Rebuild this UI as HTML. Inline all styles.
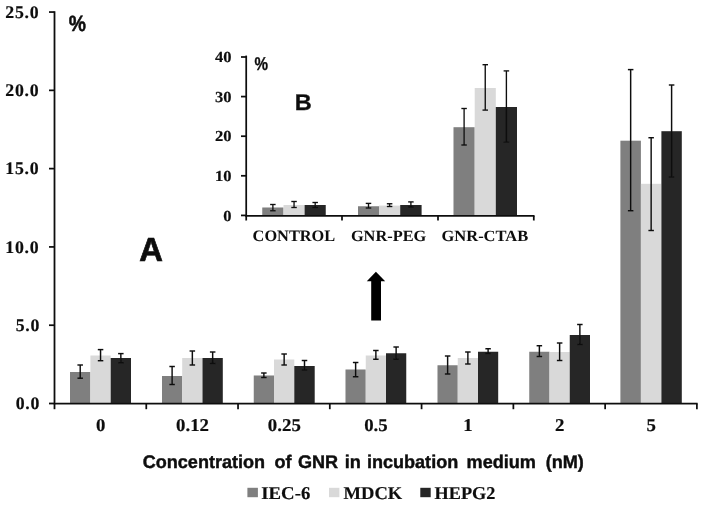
<!DOCTYPE html>
<html><head><meta charset="utf-8"><title>GNR chart</title>
<style>
html,body{margin:0;padding:0;background:#fff;}
svg{display:block;}
text{text-rendering:geometricPrecision;}
.se{font-family:"Liberation Serif","DejaVu Serif",serif;font-weight:bold;fill:#0c0c0c;stroke:#0c0c0c;stroke-width:0.15px;}
.sa{font-family:"Liberation Sans","DejaVu Sans",sans-serif;font-weight:bold;fill:#0a0a0a;stroke:#0a0a0a;stroke-width:0.3px;}
.nm{stroke-width:0.18px;}
.lt{stroke-width:0.02px;}
</style></head><body>
<svg width="704" height="505" viewBox="0 0 704 505">
<defs><filter id="soft" x="0" y="0" width="704" height="505" filterUnits="userSpaceOnUse"><feGaussianBlur stdDeviation="0.45"/></filter></defs>
<rect width="704" height="505" fill="#fff"/>
<g filter="url(#soft)">
<rect x="70.00" y="372.00" width="20.40" height="31.55" fill="#7f7f7f"/>
<rect x="90.40" y="355.50" width="20.30" height="48.05" fill="#d9d9d9"/>
<rect x="110.70" y="358.00" width="20.30" height="45.55" fill="#262626"/>
<rect x="162.00" y="376.00" width="20.20" height="27.55" fill="#7f7f7f"/>
<rect x="182.20" y="358.00" width="20.30" height="45.55" fill="#d9d9d9"/>
<rect x="202.50" y="358.00" width="20.30" height="45.55" fill="#262626"/>
<rect x="253.75" y="375.50" width="20.25" height="28.05" fill="#7f7f7f"/>
<rect x="274.00" y="359.50" width="20.30" height="44.05" fill="#d9d9d9"/>
<rect x="294.30" y="366.00" width="20.40" height="37.55" fill="#262626"/>
<rect x="345.50" y="369.50" width="20.25" height="34.05" fill="#7f7f7f"/>
<rect x="365.75" y="355.50" width="20.25" height="48.05" fill="#d9d9d9"/>
<rect x="386.00" y="353.25" width="20.25" height="50.30" fill="#262626"/>
<rect x="437.50" y="365.25" width="20.25" height="38.30" fill="#7f7f7f"/>
<rect x="457.75" y="358.00" width="20.25" height="45.55" fill="#d9d9d9"/>
<rect x="478.00" y="351.75" width="20.20" height="51.80" fill="#262626"/>
<rect x="529.25" y="351.75" width="20.25" height="51.80" fill="#7f7f7f"/>
<rect x="549.50" y="352.00" width="20.25" height="51.55" fill="#d9d9d9"/>
<rect x="569.75" y="335.00" width="20.25" height="68.55" fill="#262626"/>
<rect x="620.40" y="140.70" width="20.50" height="262.85" fill="#7f7f7f"/>
<rect x="640.90" y="183.80" width="20.50" height="219.75" fill="#d9d9d9"/>
<rect x="661.40" y="131.20" width="20.40" height="272.35" fill="#262626"/>
<line x1="80.20" y1="365.00" x2="80.20" y2="378.20" stroke="#101010" stroke-width="1.45"/>
<line x1="77.45" y1="365.00" x2="82.95" y2="365.00" stroke="#101010" stroke-width="1.45"/>
<line x1="77.45" y1="378.20" x2="82.95" y2="378.20" stroke="#101010" stroke-width="1.45"/>
<line x1="100.55" y1="349.60" x2="100.55" y2="360.70" stroke="#101010" stroke-width="1.45"/>
<line x1="97.80" y1="349.60" x2="103.30" y2="349.60" stroke="#101010" stroke-width="1.45"/>
<line x1="97.80" y1="360.70" x2="103.30" y2="360.70" stroke="#101010" stroke-width="1.45"/>
<line x1="120.85" y1="353.60" x2="120.85" y2="362.80" stroke="#101010" stroke-width="1.45"/>
<line x1="118.10" y1="353.60" x2="123.60" y2="353.60" stroke="#101010" stroke-width="1.45"/>
<line x1="118.10" y1="362.80" x2="123.60" y2="362.80" stroke="#101010" stroke-width="1.45"/>
<line x1="172.10" y1="366.50" x2="172.10" y2="384.50" stroke="#101010" stroke-width="1.45"/>
<line x1="169.35" y1="366.50" x2="174.85" y2="366.50" stroke="#101010" stroke-width="1.45"/>
<line x1="169.35" y1="384.50" x2="174.85" y2="384.50" stroke="#101010" stroke-width="1.45"/>
<line x1="192.35" y1="351.00" x2="192.35" y2="365.00" stroke="#101010" stroke-width="1.45"/>
<line x1="189.60" y1="351.00" x2="195.10" y2="351.00" stroke="#101010" stroke-width="1.45"/>
<line x1="189.60" y1="365.00" x2="195.10" y2="365.00" stroke="#101010" stroke-width="1.45"/>
<line x1="212.65" y1="352.00" x2="212.65" y2="363.50" stroke="#101010" stroke-width="1.45"/>
<line x1="209.90" y1="352.00" x2="215.40" y2="352.00" stroke="#101010" stroke-width="1.45"/>
<line x1="209.90" y1="363.50" x2="215.40" y2="363.50" stroke="#101010" stroke-width="1.45"/>
<line x1="263.88" y1="373.00" x2="263.88" y2="377.50" stroke="#101010" stroke-width="1.45"/>
<line x1="261.12" y1="373.00" x2="266.62" y2="373.00" stroke="#101010" stroke-width="1.45"/>
<line x1="261.12" y1="377.50" x2="266.62" y2="377.50" stroke="#101010" stroke-width="1.45"/>
<line x1="284.15" y1="354.00" x2="284.15" y2="365.00" stroke="#101010" stroke-width="1.45"/>
<line x1="281.40" y1="354.00" x2="286.90" y2="354.00" stroke="#101010" stroke-width="1.45"/>
<line x1="281.40" y1="365.00" x2="286.90" y2="365.00" stroke="#101010" stroke-width="1.45"/>
<line x1="304.50" y1="360.50" x2="304.50" y2="370.00" stroke="#101010" stroke-width="1.45"/>
<line x1="301.75" y1="360.50" x2="307.25" y2="360.50" stroke="#101010" stroke-width="1.45"/>
<line x1="301.75" y1="370.00" x2="307.25" y2="370.00" stroke="#101010" stroke-width="1.45"/>
<line x1="355.62" y1="362.50" x2="355.62" y2="376.75" stroke="#101010" stroke-width="1.45"/>
<line x1="352.88" y1="362.50" x2="358.38" y2="362.50" stroke="#101010" stroke-width="1.45"/>
<line x1="352.88" y1="376.75" x2="358.38" y2="376.75" stroke="#101010" stroke-width="1.45"/>
<line x1="375.88" y1="350.50" x2="375.88" y2="359.25" stroke="#101010" stroke-width="1.45"/>
<line x1="373.12" y1="350.50" x2="378.62" y2="350.50" stroke="#101010" stroke-width="1.45"/>
<line x1="373.12" y1="359.25" x2="378.62" y2="359.25" stroke="#101010" stroke-width="1.45"/>
<line x1="396.12" y1="347.00" x2="396.12" y2="359.25" stroke="#101010" stroke-width="1.45"/>
<line x1="393.38" y1="347.00" x2="398.88" y2="347.00" stroke="#101010" stroke-width="1.45"/>
<line x1="393.38" y1="359.25" x2="398.88" y2="359.25" stroke="#101010" stroke-width="1.45"/>
<line x1="447.62" y1="356.00" x2="447.62" y2="374.00" stroke="#101010" stroke-width="1.45"/>
<line x1="444.88" y1="356.00" x2="450.38" y2="356.00" stroke="#101010" stroke-width="1.45"/>
<line x1="444.88" y1="374.00" x2="450.38" y2="374.00" stroke="#101010" stroke-width="1.45"/>
<line x1="467.88" y1="352.00" x2="467.88" y2="364.00" stroke="#101010" stroke-width="1.45"/>
<line x1="465.12" y1="352.00" x2="470.62" y2="352.00" stroke="#101010" stroke-width="1.45"/>
<line x1="465.12" y1="364.00" x2="470.62" y2="364.00" stroke="#101010" stroke-width="1.45"/>
<line x1="488.10" y1="348.75" x2="488.10" y2="353.50" stroke="#101010" stroke-width="1.45"/>
<line x1="485.35" y1="348.75" x2="490.85" y2="348.75" stroke="#101010" stroke-width="1.45"/>
<line x1="485.35" y1="353.50" x2="490.85" y2="353.50" stroke="#101010" stroke-width="1.45"/>
<line x1="539.38" y1="345.75" x2="539.38" y2="356.50" stroke="#101010" stroke-width="1.45"/>
<line x1="536.62" y1="345.75" x2="542.12" y2="345.75" stroke="#101010" stroke-width="1.45"/>
<line x1="536.62" y1="356.50" x2="542.12" y2="356.50" stroke="#101010" stroke-width="1.45"/>
<line x1="559.62" y1="343.00" x2="559.62" y2="360.50" stroke="#101010" stroke-width="1.45"/>
<line x1="556.88" y1="343.00" x2="562.38" y2="343.00" stroke="#101010" stroke-width="1.45"/>
<line x1="556.88" y1="360.50" x2="562.38" y2="360.50" stroke="#101010" stroke-width="1.45"/>
<line x1="579.88" y1="324.50" x2="579.88" y2="344.50" stroke="#101010" stroke-width="1.45"/>
<line x1="577.12" y1="324.50" x2="582.62" y2="324.50" stroke="#101010" stroke-width="1.45"/>
<line x1="577.12" y1="344.50" x2="582.62" y2="344.50" stroke="#101010" stroke-width="1.45"/>
<line x1="630.65" y1="69.60" x2="630.65" y2="210.70" stroke="#101010" stroke-width="1.45"/>
<line x1="627.90" y1="69.60" x2="633.40" y2="69.60" stroke="#101010" stroke-width="1.45"/>
<line x1="627.90" y1="210.70" x2="633.40" y2="210.70" stroke="#101010" stroke-width="1.45"/>
<line x1="651.15" y1="137.70" x2="651.15" y2="230.50" stroke="#101010" stroke-width="1.45"/>
<line x1="648.40" y1="137.70" x2="653.90" y2="137.70" stroke="#101010" stroke-width="1.45"/>
<line x1="648.40" y1="230.50" x2="653.90" y2="230.50" stroke="#101010" stroke-width="1.45"/>
<line x1="671.60" y1="85.00" x2="671.60" y2="177.00" stroke="#101010" stroke-width="1.45"/>
<line x1="668.85" y1="85.00" x2="674.35" y2="85.00" stroke="#101010" stroke-width="1.45"/>
<line x1="668.85" y1="177.00" x2="674.35" y2="177.00" stroke="#101010" stroke-width="1.45"/>
<line x1="54.50" y1="11.30" x2="54.50" y2="404.35" stroke="#111" stroke-width="1.75"/>
<line x1="53.70" y1="403.55" x2="697.60" y2="403.55" stroke="#111" stroke-width="1.75"/>
<line x1="49.00" y1="403.50" x2="54.50" y2="403.50" stroke="#111" stroke-width="1.75"/>
<line x1="49.00" y1="325.21" x2="54.50" y2="325.21" stroke="#111" stroke-width="1.75"/>
<line x1="49.00" y1="246.92" x2="54.50" y2="246.92" stroke="#111" stroke-width="1.75"/>
<line x1="49.00" y1="168.63" x2="54.50" y2="168.63" stroke="#111" stroke-width="1.75"/>
<line x1="49.00" y1="90.34" x2="54.50" y2="90.34" stroke="#111" stroke-width="1.75"/>
<line x1="49.00" y1="12.05" x2="54.50" y2="12.05" stroke="#111" stroke-width="1.75"/>
<line x1="54.50" y1="403.55" x2="54.50" y2="409.20" stroke="#111" stroke-width="1.75"/>
<line x1="146.27" y1="403.55" x2="146.27" y2="409.20" stroke="#111" stroke-width="1.75"/>
<line x1="238.04" y1="403.55" x2="238.04" y2="409.20" stroke="#111" stroke-width="1.75"/>
<line x1="329.81" y1="403.55" x2="329.81" y2="409.20" stroke="#111" stroke-width="1.75"/>
<line x1="421.59" y1="403.55" x2="421.59" y2="409.20" stroke="#111" stroke-width="1.75"/>
<line x1="513.36" y1="403.55" x2="513.36" y2="409.20" stroke="#111" stroke-width="1.75"/>
<line x1="605.13" y1="403.55" x2="605.13" y2="409.20" stroke="#111" stroke-width="1.75"/>
<line x1="696.90" y1="403.55" x2="696.90" y2="409.20" stroke="#111" stroke-width="1.75"/>
<text transform="translate(40.20,409.25) scale(1.0,1)" class="se nm" font-size="17.8" text-anchor="end" letter-spacing="0.75">0.0</text>
<text transform="translate(40.20,330.96) scale(1.0,1)" class="se nm" font-size="17.8" text-anchor="end" letter-spacing="0.75">5.0</text>
<text transform="translate(39.40,252.67) scale(1.0,1)" class="se nm" font-size="17.8" text-anchor="end" letter-spacing="0.75">10.0</text>
<text transform="translate(39.40,174.38) scale(1.0,1)" class="se nm" font-size="17.8" text-anchor="end" letter-spacing="0.75">15.0</text>
<text transform="translate(39.40,96.09) scale(1.0,1)" class="se nm" font-size="17.8" text-anchor="end" letter-spacing="0.75">20.0</text>
<text transform="translate(39.40,17.80) scale(1.0,1)" class="se nm" font-size="17.8" text-anchor="end" letter-spacing="0.75">25.0</text>
<text transform="translate(100.60,431.45) scale(1.04,1)" class="se nm" font-size="18.1" text-anchor="middle">0</text>
<text transform="translate(192.50,431.45) scale(1.04,1)" class="se nm" font-size="18.1" text-anchor="middle">0.12</text>
<text transform="translate(284.33,431.45) scale(1.04,1)" class="se nm" font-size="18.1" text-anchor="middle">0.25</text>
<text transform="translate(375.98,431.45) scale(1.04,1)" class="se nm" font-size="18.1" text-anchor="middle">0.5</text>
<text transform="translate(467.95,431.45) scale(1.04,1)" class="se nm" font-size="18.1" text-anchor="middle">1</text>
<text transform="translate(559.73,431.45) scale(1.04,1)" class="se nm" font-size="18.1" text-anchor="middle">2</text>
<text transform="translate(651.20,431.45) scale(1.04,1)" class="se nm" font-size="18.1" text-anchor="middle">5</text>
<text transform="scale(0.988,1)" y="468.2" class="sa" font-size="18.3" style="stroke-width:0.4px"><tspan x="144.43">Concentration</tspan> <tspan x="277.73">of</tspan> <tspan x="301.52">GNR</tspan> <tspan x="348.89">in</tspan> <tspan x="371.36">incubation</tspan> <tspan x="472.27">medium</tspan> <tspan x="552.33">(nM)</tspan></text>
<rect x="247.40" y="487.80" width="10.50" height="9.40" fill="#7f7f7f"/>
<text x="261.30" y="498.50" class="se" font-size="18" text-anchor="start" textLength="49" lengthAdjust="spacingAndGlyphs">IEC-6</text>
<rect x="329.00" y="487.80" width="10.40" height="9.40" fill="#d9d9d9"/>
<text x="343.60" y="498.50" class="se" font-size="18" text-anchor="start" textLength="58.7" lengthAdjust="spacingAndGlyphs">MDCK</text>
<rect x="420.30" y="487.80" width="10.40" height="9.40" fill="#262626"/>
<text x="434.60" y="498.50" class="se" font-size="18" text-anchor="start" textLength="60.8" lengthAdjust="spacingAndGlyphs">HEPG2</text>
<text transform="translate(139.30,260.50) scale(0.98,1)" class="sa" font-size="33.4" text-anchor="start" style="stroke-width:0.7px">A</text>
<text x="68.80" y="30.70" class="sa" font-size="22" text-anchor="start" textLength="17.2" lengthAdjust="spacingAndGlyphs" style="stroke-width:0.5px">%</text>
<path d="M375.9 271.8 L385.2 281.2 L381 281.2 L381 320.6 L371.2 320.6 L371.2 281.2 L366.8 281.2 Z" fill="#050505"/>
<rect x="262.25" y="207.50" width="21.25" height="8.30" fill="#7f7f7f"/>
<rect x="283.50" y="205.00" width="21.10" height="10.80" fill="#d9d9d9"/>
<rect x="304.60" y="205.00" width="21.15" height="10.80" fill="#262626"/>
<rect x="358.00" y="206.25" width="21.00" height="9.55" fill="#7f7f7f"/>
<rect x="379.00" y="205.60" width="21.20" height="10.20" fill="#d9d9d9"/>
<rect x="400.20" y="205.00" width="21.40" height="10.80" fill="#262626"/>
<rect x="453.50" y="127.20" width="21.20" height="88.60" fill="#7f7f7f"/>
<rect x="474.70" y="88.00" width="21.10" height="127.80" fill="#d9d9d9"/>
<rect x="495.80" y="107.00" width="21.20" height="108.80" fill="#262626"/>
<line x1="272.88" y1="204.50" x2="272.88" y2="210.75" stroke="#101010" stroke-width="1.35"/>
<line x1="270.12" y1="204.50" x2="275.62" y2="204.50" stroke="#101010" stroke-width="1.35"/>
<line x1="270.12" y1="210.75" x2="275.62" y2="210.75" stroke="#101010" stroke-width="1.35"/>
<line x1="294.05" y1="201.50" x2="294.05" y2="207.50" stroke="#101010" stroke-width="1.35"/>
<line x1="291.30" y1="201.50" x2="296.80" y2="201.50" stroke="#101010" stroke-width="1.35"/>
<line x1="291.30" y1="207.50" x2="296.80" y2="207.50" stroke="#101010" stroke-width="1.35"/>
<line x1="315.18" y1="202.50" x2="315.18" y2="207.50" stroke="#101010" stroke-width="1.35"/>
<line x1="312.43" y1="202.50" x2="317.93" y2="202.50" stroke="#101010" stroke-width="1.35"/>
<line x1="312.43" y1="207.50" x2="317.93" y2="207.50" stroke="#101010" stroke-width="1.35"/>
<line x1="368.50" y1="203.40" x2="368.50" y2="208.00" stroke="#101010" stroke-width="1.35"/>
<line x1="365.75" y1="203.40" x2="371.25" y2="203.40" stroke="#101010" stroke-width="1.35"/>
<line x1="365.75" y1="208.00" x2="371.25" y2="208.00" stroke="#101010" stroke-width="1.35"/>
<line x1="389.60" y1="203.75" x2="389.60" y2="206.50" stroke="#101010" stroke-width="1.35"/>
<line x1="386.85" y1="203.75" x2="392.35" y2="203.75" stroke="#101010" stroke-width="1.35"/>
<line x1="386.85" y1="206.50" x2="392.35" y2="206.50" stroke="#101010" stroke-width="1.35"/>
<line x1="410.90" y1="201.90" x2="410.90" y2="206.90" stroke="#101010" stroke-width="1.35"/>
<line x1="408.15" y1="201.90" x2="413.65" y2="201.90" stroke="#101010" stroke-width="1.35"/>
<line x1="408.15" y1="206.90" x2="413.65" y2="206.90" stroke="#101010" stroke-width="1.35"/>
<line x1="464.10" y1="108.50" x2="464.10" y2="145.00" stroke="#101010" stroke-width="1.35"/>
<line x1="461.35" y1="108.50" x2="466.85" y2="108.50" stroke="#101010" stroke-width="1.35"/>
<line x1="461.35" y1="145.00" x2="466.85" y2="145.00" stroke="#101010" stroke-width="1.35"/>
<line x1="485.25" y1="64.70" x2="485.25" y2="110.10" stroke="#101010" stroke-width="1.35"/>
<line x1="482.50" y1="64.70" x2="488.00" y2="64.70" stroke="#101010" stroke-width="1.35"/>
<line x1="482.50" y1="110.10" x2="488.00" y2="110.10" stroke="#101010" stroke-width="1.35"/>
<line x1="506.40" y1="70.90" x2="506.40" y2="142.20" stroke="#101010" stroke-width="1.35"/>
<line x1="503.65" y1="70.90" x2="509.15" y2="70.90" stroke="#101010" stroke-width="1.35"/>
<line x1="503.65" y1="142.20" x2="509.15" y2="142.20" stroke="#101010" stroke-width="1.35"/>
<line x1="246.20" y1="55.60" x2="246.20" y2="216.60" stroke="#111" stroke-width="1.75"/>
<line x1="245.40" y1="215.80" x2="534.50" y2="215.80" stroke="#111" stroke-width="1.75"/>
<line x1="241.00" y1="215.40" x2="246.20" y2="215.40" stroke="#111" stroke-width="1.75"/>
<line x1="241.00" y1="175.80" x2="246.20" y2="175.80" stroke="#111" stroke-width="1.75"/>
<line x1="241.00" y1="136.20" x2="246.20" y2="136.20" stroke="#111" stroke-width="1.75"/>
<line x1="241.00" y1="96.60" x2="246.20" y2="96.60" stroke="#111" stroke-width="1.75"/>
<line x1="241.00" y1="57.00" x2="246.20" y2="57.00" stroke="#111" stroke-width="1.75"/>
<line x1="246.20" y1="215.80" x2="246.20" y2="220.50" stroke="#111" stroke-width="1.75"/>
<line x1="342.00" y1="215.80" x2="342.00" y2="220.50" stroke="#111" stroke-width="1.75"/>
<line x1="438.00" y1="215.80" x2="438.00" y2="220.50" stroke="#111" stroke-width="1.75"/>
<line x1="533.80" y1="215.80" x2="533.80" y2="220.50" stroke="#111" stroke-width="1.75"/>
<text transform="translate(231.60,220.60) scale(1.08,1)" class="se nm" font-size="15.3" text-anchor="end">0</text>
<text transform="translate(231.60,181.00) scale(1.08,1)" class="se nm" font-size="15.3" text-anchor="end">10</text>
<text transform="translate(231.60,141.40) scale(1.08,1)" class="se nm" font-size="15.3" text-anchor="end">20</text>
<text transform="translate(231.60,101.80) scale(1.08,1)" class="se nm" font-size="15.3" text-anchor="end">30</text>
<text transform="translate(231.60,62.20) scale(1.08,1)" class="se nm" font-size="15.3" text-anchor="end">40</text>
<text x="252.60" y="240.50" class="se lt" font-size="15.9" text-anchor="start" textLength="82.6" lengthAdjust="spacingAndGlyphs">CONTROL</text>
<text x="350.90" y="241.00" class="se lt" font-size="15.6" text-anchor="start" textLength="75.4" lengthAdjust="spacingAndGlyphs">GNR-PEG</text>
<text x="441.50" y="241.00" class="se lt" font-size="15.6" text-anchor="start" textLength="86.7" lengthAdjust="spacingAndGlyphs">GNR-CTAB</text>
<text transform="translate(294.70,110.20) scale(1.04,1)" class="sa" font-size="22.6" text-anchor="start">B</text>
<text x="254.50" y="70.30" class="sa" font-size="18.5" text-anchor="start" textLength="13.5" lengthAdjust="spacingAndGlyphs">%</text>
</g></svg></body></html>
